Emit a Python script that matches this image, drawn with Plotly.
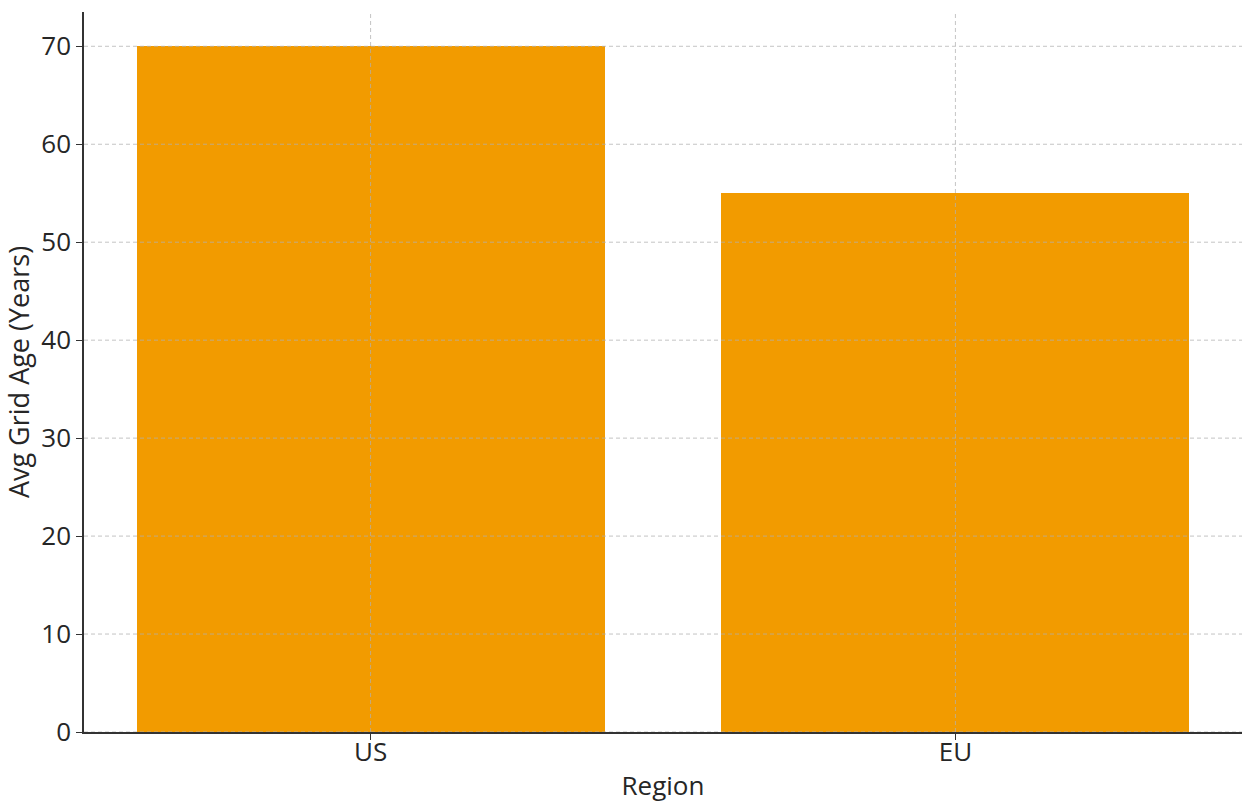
import plotly.graph_objects as go

regions = ["US", "EU"]
avg_grid_age = [70, 55]
y_ticks = [0, 10, 20, 30, 40, 50, 60, 70]

bar_color = "#F29B00"
text_color = "#262626"
grid_color = "rgba(176,176,176,0.75)"
font_family = "Open Sans"

x_pos = list(range(len(regions)))

fig = go.Figure(
    go.Bar(
        x=x_pos,
        y=avg_grid_age,
        width=0.8,
        marker=dict(color=bar_color, line=dict(width=0)),
        hoverinfo="skip",
    )
)

# dashed grid drawn on top of the bars
shapes = []
for v in y_ticks:
    shapes.append(dict(type="line", xref="paper", x0=0, x1=1, yref="y", y0=v, y1=v,
                       line=dict(color=grid_color, width=1, dash="4px,3px"), layer="above"))
for xp in x_pos:
    shapes.append(dict(type="line", xref="x", x0=xp, x1=xp, yref="paper", y0=0, y1=1,
                       line=dict(color=grid_color, width=1, dash="4px,3px"), layer="above"))

fig.update_layout(
    width=1242,
    height=805,
    margin=dict(l=84, r=0, t=12, b=73),
    plot_bgcolor="white",
    paper_bgcolor="white",
    font=dict(family=font_family, size=26, color=text_color),
    showlegend=False,
    bargap=0,
    shapes=shapes,
    xaxis=dict(
        range=[-0.49, 1.49],
        tickvals=x_pos,
        ticktext=regions,
        showgrid=False,
        zeroline=False,
        showline=True,
        linecolor="#333333",
        linewidth=1.5,
        ticks="outside",
        ticklen=6,
        tickwidth=1.2,
        tickcolor="#333333",
        ticklabelstandoff=-10,
        tickfont=dict(family=font_family, size=26, color=text_color),
        title=dict(text="Region", font=dict(family=font_family, size=26, color=text_color), standoff=9),
    ),
    yaxis=dict(
        range=[0, 73.5],
        tickvals=y_ticks,
        showgrid=False,
        zeroline=False,
        showline=True,
        linecolor="#333333",
        linewidth=1.5,
        ticks="outside",
        ticklen=6,
        tickwidth=1.2,
        tickcolor="#333333",
        tickfont=dict(family=font_family, size=26, color=text_color),
        title=dict(text="Avg Grid Age (Years)", font=dict(family=font_family, size=27, color=text_color), standoff=6),
    ),
)

fig.write_html("out.html")
